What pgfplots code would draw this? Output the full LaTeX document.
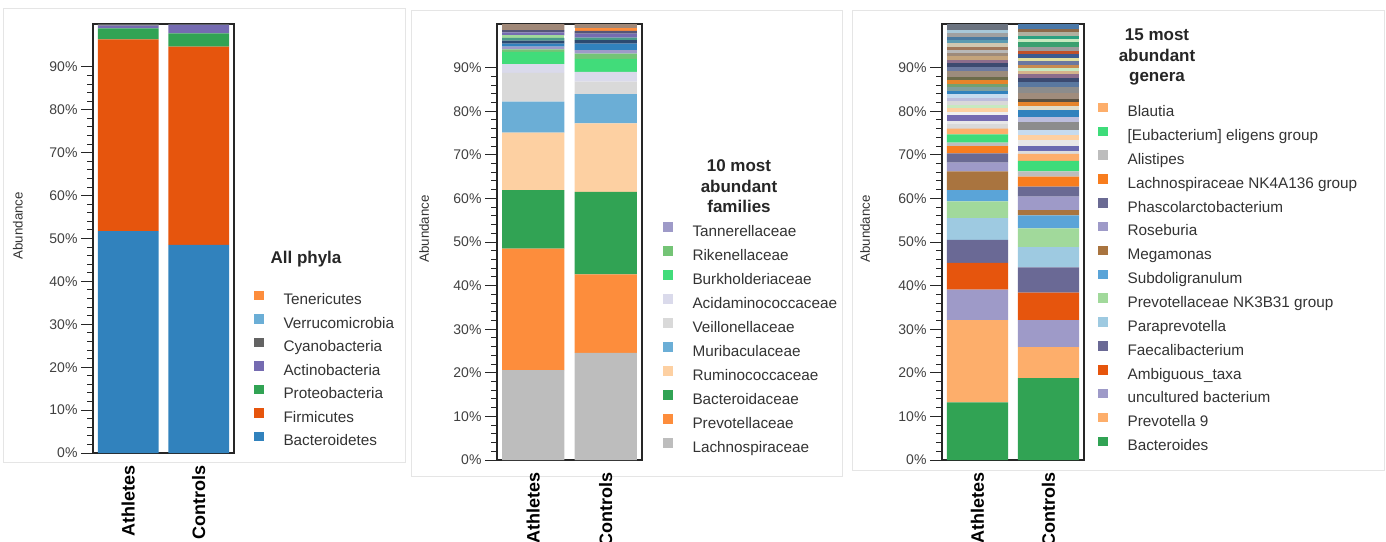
\documentclass[border=0pt]{standalone}
\usepackage{fontspec}
\setmainfont{Liberation Sans}
\usepackage{pgfplots}
\pgfplotsset{compat=1.18}

% segment with legend entry
\newcommand{\seg}[5]{\definecolor{#1}{HTML}{#2}\addplot[fill=#1,draw=none] coordinates {(0,#3) (1,#4)};\addlegendentry{#5}}
% segment without legend entry
\newcommand{\segf}[4]{\definecolor{#1}{HTML}{#2}\addplot[fill=#1,draw=none,forget plot] coordinates {(0,#3) (1,#4)};}

\pgfplotsset{
  panel/.style={
    scale only axis, ybar stacked, bar width=0.86,
    xmin=-0.5, xmax=1.5, ymin=0, ymax=100,
    xtick={0,1}, xticklabels={Athletes,Controls},
    x tick label style={rotate=90, anchor=east, inner sep=0pt,
      font=\fontsize{18}{20}\selectfont\bfseries, text=black},
    xtick style={draw=none},
    ytick={0,10,...,90},
    yticklabels={0\%,10\%,20\%,30\%,40\%,50\%,60\%,70\%,80\%,90\%},
    minor y tick num=4,
    ytick pos=left,
    tick align=outside,
    major tick length=12pt, minor tick length=6pt,
    y tick label style={font=\fontsize{14}{16}\selectfont, text=black!75},
    every tick/.style={black!85, line width=1pt},
    axis line style={line width=1.4pt, black!85},
    ylabel={Abundance},
    ylabel style={font=\fontsize{13.3}{15}\selectfont, text=black!80, anchor=center},
    legend image code/.code={\fill[#1] (0pt,0.5pt) rectangle (9.5pt,10pt);},
    reverse legend,
    legend cell align=left,
    legend style={draw=none, fill=none, inner sep=0pt, outer sep=0pt,
      anchor=north west,
      font=\fontsize{15.3}{18}\selectfont, text=black!80,
      nodes={inner sep=0pt, text height=11.5pt, text depth=3.5pt},
      /tikz/every odd column/.append style={column sep=20pt}},
  }
}

\begin{document}
\begin{tikzpicture}
\useasboundingbox (0,0) rectangle (1386pt,-541pt);
\draw[black!10, line width=0.8pt] (3pt,-8pt) rectangle (405pt,-462pt);
\draw[black!10, line width=0.8pt] (411pt,-10pt) rectangle (842pt,-476pt);
\draw[black!10, line width=0.8pt] (852pt,-10pt) rectangle (1384pt,-470pt);

% ---------------- Panel 1: All phyla ----------------
\begin{axis}[panel, at={(93pt,-453pt)}, anchor=south west, width=141pt, height=429pt,
  ylabel style={at={(axis description cs:-0.532,0.53)}},
  legend style={at={(axis description cs:1.142,0.378)}, row sep=6pt}]
\seg{pA}{3182BD}{51.7}{48.5}{Bacteroidetes}
\seg{pB}{E6550D}{44.7}{46.2}{Firmicutes}
\seg{pC}{31A354}{2.6}{3.1}{Proteobacteria}
\seg{pD}{756BB1}{0.6}{2.0}{Actinobacteria}
\seg{pE}{636363}{0.3}{0.1}{Cyanobacteria}
\seg{pF}{6BAED6}{0.05}{0.05}{Verrucomicrobia}
\seg{pG}{FD8D3C}{0.05}{0.05}{Tenericutes}
\end{axis}
\node[font=\fontsize{17}{20.5}\selectfont\bfseries, text=black!85] at (306pt,-259pt) {All phyla};

% ---------------- Panel 2: families ----------------
\begin{axis}[panel, at={(497pt,-460pt)}, anchor=south west, width=145pt, height=436pt,
  ylabel style={at={(axis description cs:-0.503,0.53)}},
  legend style={at={(axis description cs:1.145,0.5456)}, row sep=6.5pt}]
\seg{fA}{BDBDBD}{20.6}{24.6}{Lachnospiraceae}
\seg{fB}{FD8D3C}{27.9}{18.0}{Prevotellaceae}
\seg{fC}{31A354}{13.4}{18.9}{Bacteroidaceae}
\seg{fD}{FDD0A2}{13.2}{15.7}{Ruminococcaceae}
\seg{fE}{6BAED6}{7.1}{6.7}{Muribaculaceae}
\seg{fF}{D9D9D9}{6.6}{2.9}{Veillonellaceae}
\seg{fG}{DADAEB}{2.0}{2.2}{Acidaminococcaceae}
\seg{fH}{41DC7A}{2.8}{3.0}{Burkholderiaceae}
\seg{fI}{74C476}{0.6}{1.2}{Rikenellaceae}
\seg{fJ}{9E9AC8}{0.6}{0.8}{Tannerellaceae}
\segf{fo1}{3182BD}{0.7}{1.5}
\segf{fo2}{2C4A70}{0.7}{0.8}
\segf{fo3}{4A9A8A}{0.6}{0.6}
\segf{fo4}{A1D99B}{0.6}{0}
\segf{fo5}{756BB1}{0.7}{0.9}
\segf{fo6}{555577}{0.5}{0.6}
\segf{fo7}{FD8D3C}{0}{0.7}
\segf{fo8}{A08878}{1.4}{0.9}
\end{axis}
\node[align=center, font=\fontsize{17}{20.5}\selectfont\bfseries, text=black!85] at (739pt,-186.5pt) {10 most\\abundant\\families};

% ---------------- Panel 3: genera ----------------
\begin{axis}[panel, at={(942pt,-460pt)}, anchor=south west, width=142pt, height=436pt,
  ylabel style={at={(axis description cs:-0.542,0.53)}},
  legend style={at={(axis description cs:1.099,0.8196)}, row sep=6.35pt}]
\seg{gA}{31A354}{13.2}{18.8}{Bacteroides}
\seg{gB}{FDAE6B}{18.9}{7.1}{Prevotella 9}
\seg{gC}{9E9AC8}{7.0}{6.2}{uncultured bacterium}
\seg{gD}{E6550D}{6.1}{6.3}{Ambiguous\_taxa}
\seg{gE}{6A6995}{5.3}{5.8}{Faecalibacterium}
\seg{gF}{9ECAE1}{5.0}{4.6}{Paraprevotella}
\seg{gG}{A1D99B}{3.8}{4.3}{Prevotellaceae NK3B31 group}
\seg{gH}{5AA4D8}{2.6}{3.0}{Subdoligranulum}
\seg{gI}{A9743F}{4.3}{1.2}{Megamonas}
\seg{gJ}{9E9AC8}{2.0}{3.1}{Roseburia}
\seg{gK}{6A6A93}{2.1}{2.3}{Phascolarctobacterium}
\seg{gL}{F87D1E}{1.7}{2.3}{Lachnospiraceae NK4A136 group}
\seg{gM}{BDBDBD}{0.8}{1.2}{Alistipes}
\seg{gN}{3EDC7A}{1.9}{2.4}{[Eubacterium] eligens group}
\seg{gO}{FDAE6B}{1.3}{1.6}{Blautia}
% other genera, athletes
\segf{a01}{D9D9D9}{1.0}{0}
\segf{a02}{E8E8E8}{0.75}{0}
\segf{a03}{756BB1}{1.35}{0}
\segf{a04}{F0F0F0}{0.8}{0}
\segf{a05}{FDD0A2}{0.8}{0}
\segf{a06}{C7E9C0}{0.7}{0}
\segf{a07}{D9D9D9}{0.9}{0}
\segf{a08}{BCBDDC}{0.8}{0}
\segf{a09}{C6DBEF}{0.8}{0}
\segf{a10}{3182BD}{0.7}{0}
\segf{a11}{7F9F9F}{0.9}{0}
\segf{a12}{74A070}{0.8}{0}
\segf{a13}{E6842A}{0.9}{0}
\segf{a14}{6B6B4A}{0.6}{0}
\segf{a15}{9C8C7C}{1.5}{0}
\segf{a16}{6B7AA0}{0.8}{0}
\segf{a17}{3C4A70}{0.9}{0}
\segf{a18}{8C6D8C}{0.8}{0}
\segf{a19}{C4A47C}{0.8}{0}
\segf{a20}{9E8A7A}{0.7}{0}
\segf{a21}{B8B8B8}{0.8}{0}
\segf{a22}{A0785A}{0.7}{0}
\segf{a23}{D0C8B0}{0.8}{0}
\segf{a24}{5B9BB0}{0.8}{0}
\segf{a25}{4A7AA0}{0.7}{0}
\segf{a26}{A0A0A0}{0.8}{0}
\segf{a27}{A8C8D8}{0.7}{0}
\segf{a28}{6B7380}{1.4}{0}
% other genera, controls
\segf{c01}{DCDCDC}{0}{0.7}
\segf{c02}{6B6BB0}{0}{1.1}
\segf{c03}{E8E8E8}{0}{1.4}
\segf{c04}{FDD0A2}{0}{1.1}
\segf{c05}{C6DBEF}{0}{1.2}
\segf{c06}{8C8C8C}{0}{1.9}
\segf{c07}{BCBDDC}{0}{1.1}
\segf{c08}{3182BD}{0}{1.5}
\segf{c09}{E0DCC8}{0}{0.9}
\segf{c10}{E6842A}{0}{1.0}
\segf{c11}{5A5040}{0}{0.8}
\segf{c12}{A08C7C}{0}{1.3}
\segf{c13}{8C8C8C}{0}{1.3}
\segf{c14}{5A78A0}{0}{1.2}
\segf{c15}{3C4A70}{0}{1.0}
\segf{c16}{8C6D8C}{0}{0.9}
\segf{c17}{D4B48C}{0}{0.7}
\segf{c18}{C7E9C0}{0}{0.6}
\segf{c19}{C88C50}{0}{0.8}
\segf{c20}{6B78A0}{0}{0.7}
\segf{c21}{E0E0A0}{0}{0.8}
\segf{c22}{3C5A90}{0}{0.9}
\segf{c23}{C0502A}{0}{0.8}
\segf{c24}{9C9C9C}{0}{0.9}
\segf{c25}{3AA070}{0}{1.0}
\segf{c26}{C7E9C0}{0}{0.8}
\segf{c27}{2CA080}{0}{0.7}
\segf{c28}{B0B0A0}{0}{0.8}
\segf{c29}{8C6A4A}{0}{0.7}
\segf{c30}{4A78A8}{0}{1.2}
\end{axis}
\node[align=center, font=\fontsize{17}{20.5}\selectfont\bfseries, text=black!85] at (1157pt,-57pt) {15 most\\abundant\\genera};
\end{tikzpicture}
\end{document}
